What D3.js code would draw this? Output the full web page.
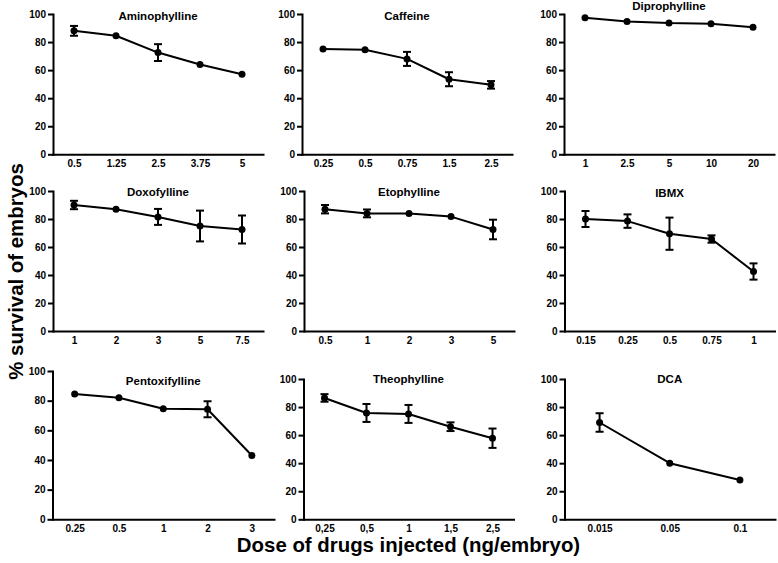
<!DOCTYPE html>
<html>
<head>
<meta charset="utf-8">
<script src="https://cdn.jsdelivr.net/npm/d3@7"></script>
<style>
  html, body { margin: 0; padding: 0; background: #fff; }
  svg { display: block; }
  text { font-family: "Liberation Sans", Arial, sans-serif; font-weight: bold; fill: #000; }
</style>
</head>
<body>
<svg id="chart" width="778" height="563"></svg>
<script>
// ---- data ----
const drugs = ["Aminophylline", "Caffeine", "Diprophylline", "Doxofylline", "Etophylline", "IBMX", "Pentoxifylline", "Theophylline", "DCA"];
const doses = [
  ["0.5", "1.25", "2.5", "3.75", "5"],
  ["0.25", "0.5", "0.75", "1.5", "2.5"],
  ["1", "2.5", "5", "10", "20"],
  ["1", "2", "3", "5", "7.5"],
  ["0.5", "1", "2", "3", "5"],
  ["0.15", "0.25", "0.5", "0.75", "1"],
  ["0.25", "0.5", "1", "2", "3"],
  ["0,25", "0,5", "1", "1,5", "2,5"],
  ["0.015", "0.05", "0.1"]
];
const survival = [
  [88, 84.5, 72.5, 64, 57],
  [75, 74.5, 68, 53.5, 49.5],
  [97.4, 94.7, 93.5, 93, 90.5],
  [90, 87, 81.5, 75, 72.5],
  [87, 84, 84, 81.7, 72.5],
  [80, 78.5, 69.5, 65.7, 42.5],
  [84.5, 82, 74.5, 74.2, 43],
  [86.5, 75.8, 75.1, 66, 57.8],
  [69, 40, 28]
];
const sem = [
  [3.5, 0, 6, 0, 0],
  [0, 0, 5, 5, 2.7],
  [0, 0, 0, 0, 0],
  [3, 0, 5.7, 11, 10],
  [3, 2.8, 0, 0, 7],
  [5.7, 4.8, 11.5, 2.6, 5.8],
  [0, 0, 0, 5.4, 0],
  [2.7, 6.4, 6.4, 3.1, 6.9],
  [6.6, 0, 0]
];
const yTicks = [0, 20, 40, 60, 80, 100];
const xTitle = "Dose of drugs injected (ng/embryo)";
const yTitle = "% survival of embryos";

// ---- layout (pixel geometry of each panel) ----
const layout = [
  {x0: 53,   x1: 263, yTop: 14,  yBot: 154.3, titleY: 19.5},
  {x0: 302,  x1: 512, yTop: 14,  yBot: 154.3, titleY: 19.5},
  {x0: 564,  x1: 774, yTop: 14,  yBot: 154.3, titleY: 9.5},
  {x0: 53,   x1: 263, yTop: 191, yBot: 331,   titleY: 195.5},
  {x0: 304,  x1: 514, yTop: 191, yBot: 331,   titleY: 196},
  {x0: 564.5,x1: 774.5,yTop: 191, yBot: 331,  titleY: 196.5},
  {x0: 52.5, x1: 274, yTop: 371, yBot: 519.3, titleY: 385},
  {x0: 303.5,x1: 513.5,yTop: 379, yBot: 519.3, titleY: 383},
  {x0: 564.5,x1: 775, yTop: 379, yBot: 519.3, titleY: 383}
];

const svg = d3.select("#chart");

drugs.forEach((name, i) => {
  const L = layout[i];
  const g = svg.append("g");
  const x = d3.scalePoint().domain(doses[i]).range([L.x0, L.x1]).padding(0.5);
  const y = d3.scaleLinear().domain([0, 100]).range([L.yBot, L.yTop]);

  // y axis
  const ya = g.append("g")
    .attr("transform", `translate(${L.x0},0)`)
    .call(d3.axisLeft(y).tickValues(yTicks).tickSize(5).tickSizeOuter(0).tickPadding(2));
  // x axis
  const xa = g.append("g")
    .attr("transform", `translate(0,${L.yBot})`)
    .call(d3.axisBottom(x).tickSize(0).tickSizeOuter(0).tickPadding(6));

  [ya, xa].forEach(a => {
    a.select(".domain").attr("stroke", "#000").attr("stroke-width", 2).attr("stroke-linecap", "square");
    a.selectAll(".tick line").attr("stroke", "#000").attr("stroke-width", 2);
    a.selectAll(".tick text").attr("font-size", 10).attr("font-family", '"Liberation Sans", Arial, sans-serif').attr("font-weight", "bold").attr("fill", "#000");
  });

  const pts = doses[i].map((d, j) => ({d, v: survival[i][j], e: sem[i][j]}));

  // line
  g.append("path")
    .datum(pts)
    .attr("fill", "none")
    .attr("stroke", "#000")
    .attr("stroke-width", 2)
    .attr("stroke-linejoin", "round")
    .attr("d", d3.line().x(p => x(p.d)).y(p => y(p.v)));

  // error bars
  const eb = g.selectAll(".eb").data(pts.filter(p => p.e > 0)).enter().append("g");
  eb.append("line")
    .attr("x1", p => x(p.d)).attr("x2", p => x(p.d))
    .attr("y1", p => y(p.v - p.e)).attr("y2", p => y(p.v + p.e))
    .attr("stroke", "#000").attr("stroke-width", 2);
  eb.append("line")
    .attr("x1", p => x(p.d) - 4).attr("x2", p => x(p.d) + 4)
    .attr("y1", p => y(p.v + p.e)).attr("y2", p => y(p.v + p.e))
    .attr("stroke", "#000").attr("stroke-width", 2);
  eb.append("line")
    .attr("x1", p => x(p.d) - 4).attr("x2", p => x(p.d) + 4)
    .attr("y1", p => y(p.v - p.e)).attr("y2", p => y(p.v - p.e))
    .attr("stroke", "#000").attr("stroke-width", 2);

  // markers
  g.selectAll(".pt").data(pts).enter().append("circle")
    .attr("cx", p => x(p.d)).attr("cy", p => y(p.v)).attr("r", 3.5)
    .attr("fill", "#000");

  // title
  g.append("text")
    .attr("x", (L.x0 + L.x1) / 2)
    .attr("y", L.titleY)
    .attr("text-anchor", "middle")
    .attr("font-size", 11.5)
    .text(name);
});

svg.append("text")
  .attr("x", 408.5).attr("y", 551.5)
  .attr("text-anchor", "middle")
  .attr("font-size", 20.4)
  .text(xTitle);

svg.append("text")
  .attr("transform", "translate(23,271.5) rotate(-90)")
  .attr("text-anchor", "middle")
  .attr("font-size", 20.4)
  .text(yTitle);
</script>
</body>
</html>
